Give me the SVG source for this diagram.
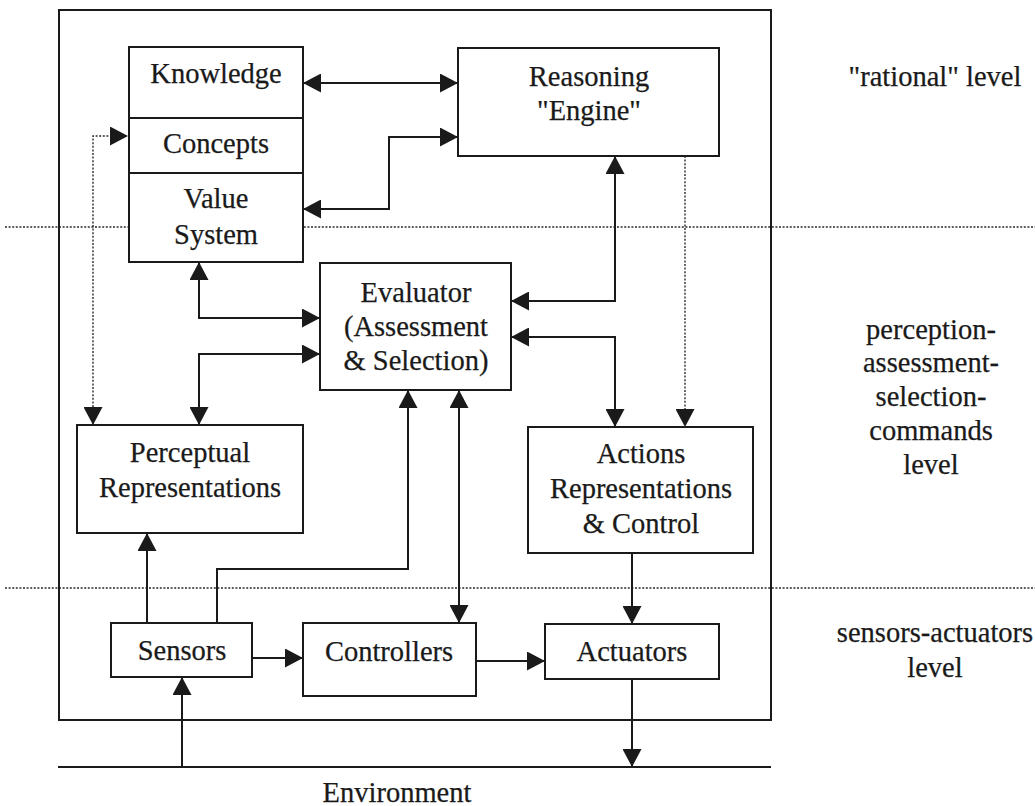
<svg xmlns="http://www.w3.org/2000/svg" width="1035" height="806" viewBox="0 0 1035 806">
<defs>
<marker id="ah" markerUnits="userSpaceOnUse" markerWidth="18" markerHeight="19" refX="18" refY="9.5" orient="auto-start-reverse" viewBox="0 0 18 19">
<path d="M0,0 L18,9.5 L0,19 z" fill="#1a1a1a"/>
</marker>
</defs>
<style>
.box{fill:#fff;stroke:#1a1a1a;stroke-width:2}
.ln{fill:none;stroke:#1a1a1a;stroke-width:2}
.dot{fill:none;stroke:#2a2a2a;stroke-width:1.4;stroke-dasharray:2 1.6}
.t{font-family:"Liberation Serif","Times New Roman",serif;font-size:28.5px;fill:#1a1a1a;stroke:#1a1a1a;stroke-width:0.25;text-anchor:middle}
</style>
<rect width="1035" height="806" fill="#fff"/>
<g id="levels">
<line class="dot" x1="5" y1="227" x2="1035" y2="227"/>
<line class="dot" x1="5" y1="588" x2="1035" y2="588"/>
</g>
<g id="system">
<rect class="ln" x="59" y="10" width="712" height="710"/>
</g>
<g id="environment">
<line class="ln" x1="58" y1="767" x2="771" y2="767"/>
<text class="t" x="397" y="802">Environment</text>
</g>
<g id="knowledge">
<rect class="box" x="129" y="47" width="174" height="215"/>
<line class="ln" x1="129" y1="118" x2="303" y2="118"/>
<line class="ln" x1="129" y1="173" x2="303" y2="173"/>
<text class="t" x="216" y="83">Knowledge</text>
<text class="t" x="216" y="153">Concepts</text>
<text class="t" x="216" y="208">Value</text>
<text class="t" x="216" y="244">System</text>
</g>
<g id="reasoning">
<rect class="box" x="458" y="48" width="261" height="108"/>
<text class="t" x="589" y="86">Reasoning</text>
<text class="t" x="589" y="120">"Engine"</text>
</g>
<g id="evaluator">
<rect class="box" x="320" y="263" width="191" height="127"/>
<text class="t" x="416" y="302">Evaluator</text>
<text class="t" x="416" y="336">(Assessment</text>
<text class="t" x="416" y="370">&amp; Selection)</text>
</g>
<g id="perceptual">
<rect class="box" x="77" y="425" width="226" height="108"/>
<text class="t" x="190" y="462">Perceptual</text>
<text class="t" x="190" y="497">Representations</text>
</g>
<g id="actions">
<rect class="box" x="528" y="427" width="225" height="126"/>
<text class="t" x="641" y="463">Actions</text>
<text class="t" x="641" y="498">Representations</text>
<text class="t" x="641" y="533">&amp; Control</text>
</g>
<g id="sensors">
<rect class="box" x="111" y="623" width="141" height="54"/>
<text class="t" x="182" y="660">Sensors</text>
</g>
<g id="controllers">
<rect class="box" x="303" y="623" width="173" height="73"/>
<text class="t" x="389" y="661">Controllers</text>
</g>
<g id="actuators">
<rect class="box" x="545" y="624" width="174" height="55"/>
<text class="t" x="632" y="661">Actuators</text>
</g>
<g id="labels">
<text class="t" x="935" y="86">"rational" level</text>
<text class="t" x="931" y="339">perception-</text>
<text class="t" x="931" y="372">assessment-</text>
<text class="t" x="931" y="406">selection-</text>
<text class="t" x="931" y="440">commands</text>
<text class="t" x="931" y="474">level</text>
<text class="t" x="935" y="642">sensors-actuators</text>
<text class="t" x="935" y="677">level</text>
</g>
<g id="connectors">
<path class="ln" d="M303,83 H458" marker-start="url(#ah)" marker-end="url(#ah)"/>
<path class="ln" d="M303,209 H389 V137 H458" marker-start="url(#ah)" marker-end="url(#ah)"/>
<path class="dot" d="M93,425 V136 H128" marker-start="url(#ah)" marker-end="url(#ah)"/>
<path class="ln" d="M199,262 V318 H320" marker-start="url(#ah)" marker-end="url(#ah)"/>
<path class="ln" d="M199,425 V354 H320" marker-start="url(#ah)" marker-end="url(#ah)"/>
<path class="ln" d="M615,156 V301 H511" marker-start="url(#ah)" marker-end="url(#ah)"/>
<path class="ln" d="M511,337 H615 V427" marker-start="url(#ah)" marker-end="url(#ah)"/>
<path class="dot" d="M685,156 V427" marker-end="url(#ah)"/>
<path class="ln" d="M147,623 V533" marker-end="url(#ah)"/>
<path class="ln" d="M217,623 V569 H408 V390" marker-end="url(#ah)"/>
<path class="ln" d="M459,390 V623" marker-start="url(#ah)" marker-end="url(#ah)"/>
<path class="ln" d="M632,553 V624" marker-end="url(#ah)"/>
<path class="ln" d="M252,658 H303" marker-end="url(#ah)"/>
<path class="ln" d="M476,661 H545" marker-end="url(#ah)"/>
<path class="ln" d="M182,767 V677" marker-end="url(#ah)"/>
<path class="ln" d="M632,679 V767" marker-end="url(#ah)"/>
</g>
</svg>
